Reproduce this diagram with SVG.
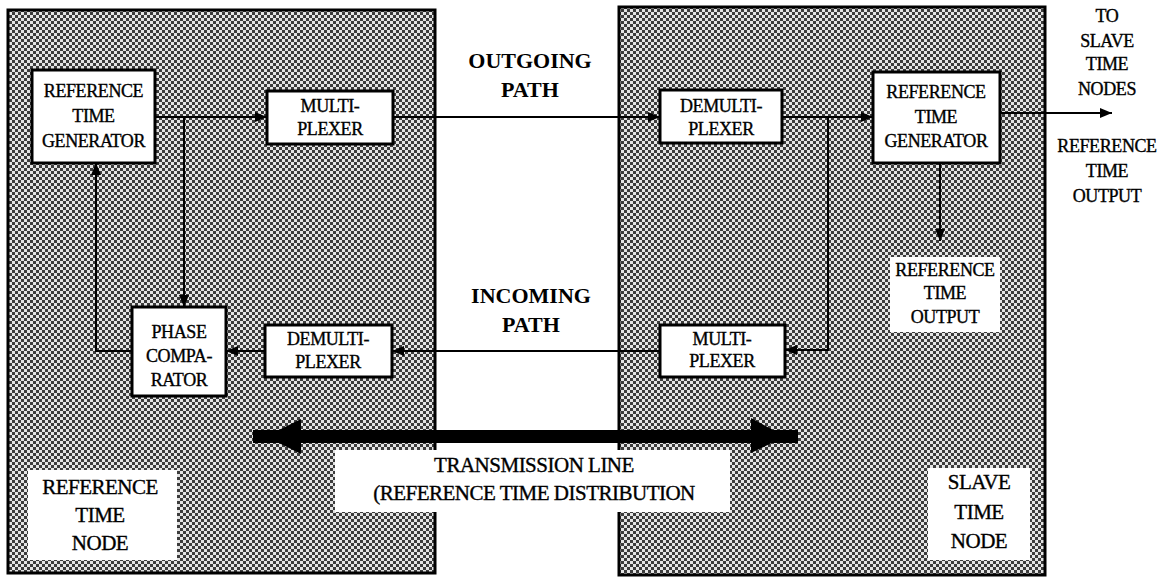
<svg xmlns="http://www.w3.org/2000/svg" width="1170" height="577" viewBox="0 0 1170 577">
<defs>
<pattern id="dither" width="6" height="6" patternUnits="userSpaceOnUse">
<rect width="6" height="6" fill="#e4e4e4"/>
<rect x="0" y="0" width="3" height="3" fill="#3c3c3c"/>
<rect x="3" y="3" width="3" height="3" fill="#3c3c3c"/>
</pattern>
<marker id="ah" viewBox="0 0 12 10" refX="12" refY="5" markerWidth="12" markerHeight="10" markerUnits="userSpaceOnUse" orient="auto">
<path d="M0,0 L12,5 L0,10 Z" fill="#000"/>
</marker>
</defs>
<style>
.panel{fill:url(#dither);stroke:#000;stroke-width:3}
.box{fill:#fff;stroke:#000;stroke-width:3}
.lbl{fill:#fff;stroke:none}
.t{font-family:"Liberation Serif","Times New Roman",serif;font-size:18px;fill:#000;stroke:#000;stroke-width:0.35;text-anchor:middle;letter-spacing:-0.4px}
.big{font-family:"Liberation Serif","Times New Roman",serif;font-size:21px;fill:#000;stroke:#000;stroke-width:0.35;text-anchor:middle;letter-spacing:-0.5px}
.bold{font-family:"Liberation Serif","Times New Roman",serif;font-size:22px;font-weight:bold;fill:#000;text-anchor:middle}
.c{fill:none;stroke:#000;stroke-width:2;marker-end:url(#ah)}
</style>
<rect width="1170" height="577" fill="#fff"/>

<g id="reference-time-node-panel">
<rect class="panel" x="8" y="10" width="427" height="563"/>
</g>
<g id="slave-time-node-panel">
<rect class="panel" x="619" y="7" width="426" height="568"/>
</g>

<g id="connectors">
<path class="c" d="M155,117 H267"/>
<path class="c" d="M184,117 V307"/>
<path class="c" d="M132,351 H96 V163"/>
<path class="c" d="M265,351 H226"/>
<path class="c" d="M393,117 H660"/>
<path class="c" d="M660,351 H392"/>
<path class="c" d="M782,117 H873"/>
<path class="c" d="M828,117 V350 H785"/>
<path class="c" d="M1000,113 H1112"/>
<path class="c" d="M940,163 V241"/>
<g id="transmission-line-arrow" fill="#000">
<rect x="253" y="430" width="545" height="13"/>
<polygon points="266,436.5 301,419 301,454"/>
<polygon points="785,436.5 751,418 751,453"/>
</g>
</g>

<g id="ref-time-generator-left">
<rect class="box" x="32" y="70" width="123" height="93"/>
<text class="t" x="93.5" y="97">REFERENCE</text>
<text class="t" x="93.5" y="122">TIME</text>
<text class="t" x="93.5" y="147">GENERATOR</text>
</g>
<g id="multiplexer-left">
<rect class="box" x="267" y="91" width="126" height="53"/>
<text class="t" x="330" y="112">MULTI-</text>
<text class="t" x="330" y="135">PLEXER</text>
</g>
<g id="phase-comparator">
<rect class="box" x="132" y="307" width="94" height="89"/>
<text class="t" x="179" y="338">PHASE</text>
<text class="t" x="179" y="362">COMPA-</text>
<text class="t" x="179" y="386">RATOR</text>
</g>
<g id="demultiplexer-left">
<rect class="box" x="265" y="325" width="127" height="52"/>
<text class="t" x="328" y="345">DEMULTI-</text>
<text class="t" x="328" y="368">PLEXER</text>
</g>
<g id="demultiplexer-right">
<rect class="box" x="660" y="90" width="122" height="53"/>
<text class="t" x="721" y="112">DEMULTI-</text>
<text class="t" x="721" y="135">PLEXER</text>
</g>
<g id="ref-time-generator-right">
<rect class="box" x="873" y="72" width="127" height="91"/>
<text class="t" x="936" y="98">REFERENCE</text>
<text class="t" x="936" y="123">TIME</text>
<text class="t" x="936" y="147">GENERATOR</text>
</g>
<g id="multiplexer-right">
<rect class="box" x="660" y="325" width="125" height="52"/>
<text class="t" x="722" y="345">MULTI-</text>
<text class="t" x="722" y="367">PLEXER</text>
</g>
<g id="ref-time-output-inner">
<rect class="lbl" x="890" y="257" width="110" height="75"/>
<text class="t" x="945" y="276">REFERENCE</text>
<text class="t" x="945" y="299">TIME</text>
<text class="t" x="945" y="323">OUTPUT</text>
</g>
<g id="ref-time-node-label">
<rect class="lbl" x="28" y="470" width="149" height="90"/>
<text class="big" x="100" y="494">REFERENCE</text>
<text class="big" x="100" y="522">TIME</text>
<text class="big" x="100" y="550">NODE</text>
</g>
<g id="slave-time-node-label">
<rect class="lbl" x="928" y="468" width="102" height="92"/>
<text class="big" x="979" y="489">SLAVE</text>
<text class="big" x="979" y="519">TIME</text>
<text class="big" x="979" y="548">NODE</text>
</g>
<g id="transmission-line-label">
<rect class="lbl" x="335" y="450" width="395" height="62"/>
<text class="big" x="534" y="472">TRANSMISSION LINE</text>
<text class="big" x="534" y="500">(REFERENCE TIME DISTRIBUTION</text>
</g>
<g id="outgoing-path-label">
<text class="bold" x="530" y="68">OUTGOING</text>
<text class="bold" x="530" y="97">PATH</text>
</g>
<g id="incoming-path-label">
<text class="bold" x="531" y="303">INCOMING</text>
<text class="bold" x="531" y="332">PATH</text>
</g>
<g id="to-slave-time-nodes-label">
<text class="t" x="1107" y="22">TO</text>
<text class="t" x="1107" y="47">SLAVE</text>
<text class="t" x="1107" y="70">TIME</text>
<text class="t" x="1107" y="95">NODES</text>
</g>
<g id="ref-time-output-outer">
<text class="t" x="1107" y="152">REFERENCE</text>
<text class="t" x="1107" y="177">TIME</text>
<text class="t" x="1107" y="202">OUTPUT</text>
</g>
</svg>
